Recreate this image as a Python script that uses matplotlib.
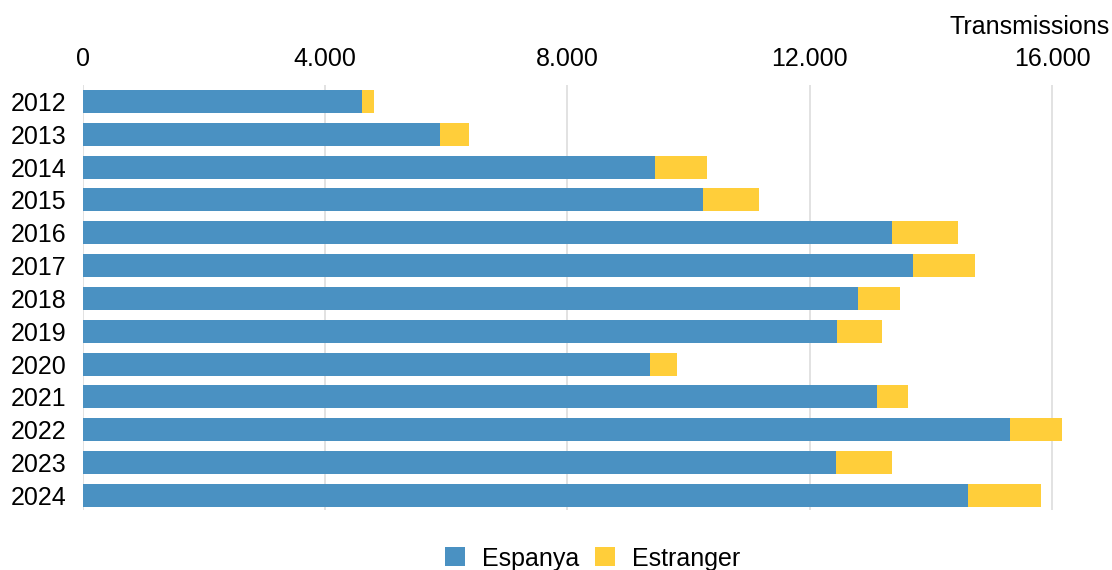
import matplotlib.pyplot as plt
from matplotlib.ticker import FuncFormatter

plt.rcParams['font.family'] = ['Liberation Sans', 'DejaVu Sans']

years = ["2012", "2013", "2014", "2015", "2016", "2017", "2018",
         "2019", "2020", "2021", "2022", "2023", "2024"]
espanya = [4600, 5900, 9440, 10240, 13360, 13700, 12790,
           12450, 9370, 13110, 15300, 12430, 14610]
estranger = [210, 475, 860, 930, 1080, 1030, 700,
             745, 446, 513, 870, 925, 1207]

blue = "#4a91c2"
yellow = "#ffce3a"

fig = plt.figure(figsize=(11.12, 5.70), dpi=100)
ax = fig.add_axes([0.0746, 0.105, 0.915, 0.746])

pos = range(len(years))
ax.barh(pos, espanya, height=0.7, color=blue, label="Espanya", zorder=3)
ax.barh(pos, estranger, left=espanya, height=0.7, color=yellow,
        label="Estranger", zorder=3)

ax.set_ylim(12.45, -0.5)
ax.set_xlim(0, 16800)
ax.set_yticks(list(pos))
ax.set_yticklabels(years)
ax.set_xticks([0, 4000, 8000, 12000, 16000])
ax.xaxis.set_major_formatter(FuncFormatter(lambda v, p: f"{int(v):,}".replace(",", ".")))
ax.xaxis.tick_top()
ax.tick_params(axis="both", length=0, labelsize=18)
ax.tick_params(axis="x", pad=10)
ax.tick_params(axis="y", pad=12)
ax.grid(axis="x", color="#dddddd", linewidth=1.2, zorder=0)
for s in ax.spines.values():
    s.set_visible(False)

fig.text(0.998, 0.952, "Transmissions", ha="right", va="center", fontsize=18)

fig.legend(loc="center", bbox_to_anchor=(0.533, 0.02), ncol=2, frameon=False,
           fontsize=18, handlelength=0.8, handleheight=0.8,
           handletextpad=0.7, columnspacing=0.6)

fig.savefig("out.png", dpi=100)
